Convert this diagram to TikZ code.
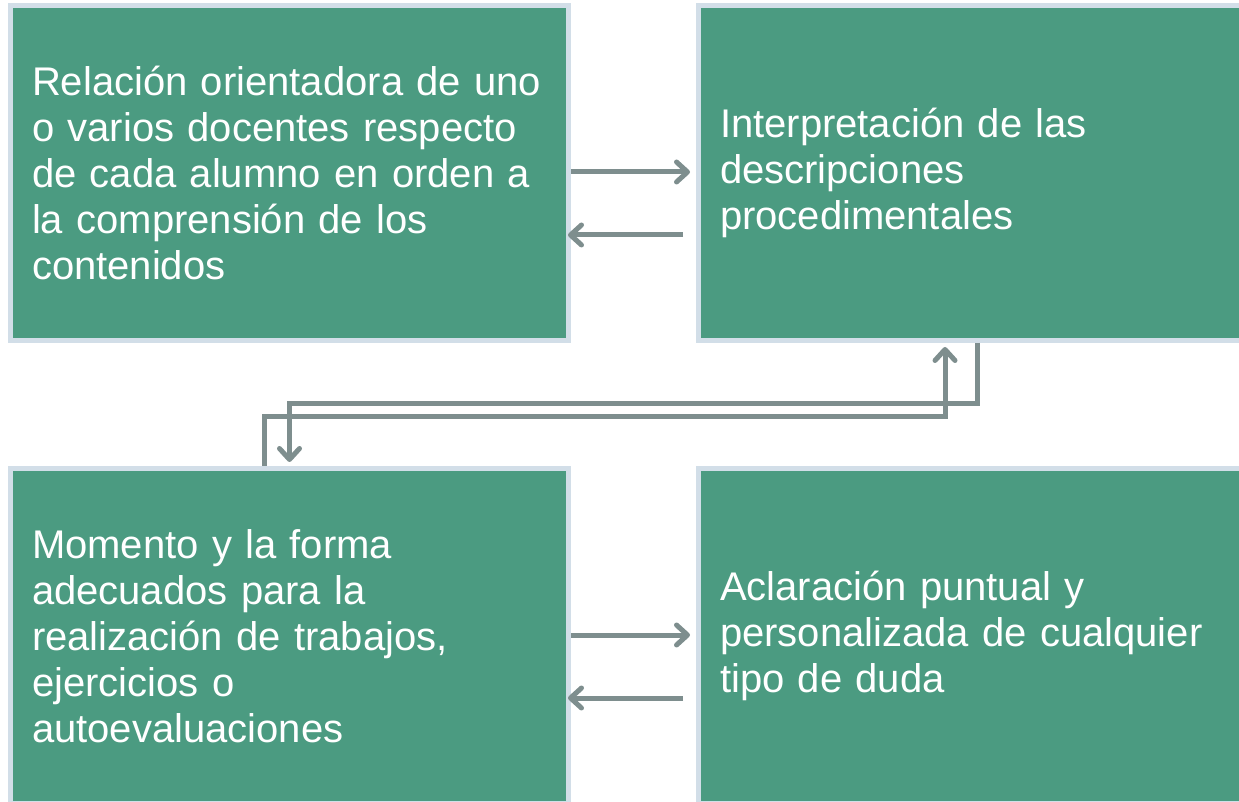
\documentclass[tikz,border=0pt]{standalone}
\usepackage{fontspec}
\setmainfont{Liberation Sans}
\definecolor{boxgreen}{RGB}{75,155,129}
\definecolor{boxrim}{RGB}{210,222,232}
\definecolor{linkgrey}{RGB}{126,142,142}
\usetikzlibrary{arrows.meta}

\begin{document}
\begin{tikzpicture}[x=1pt,y=1pt]

%
% Styles
%
\tikzstyle{block} = [rectangle,draw=boxrim,fill=boxgreen,line width=5pt,minimum width=558pt,minimum height=335pt,text width=515pt,align=left,text=white,font=\fontsize{40}{46}\selectfont]
\tikzstyle{link}  = [-{Straight Barb[length=11pt,width=20pt,round]},draw=linkgrey,line width=5pt]

\useasboundingbox (0,0) rectangle (1239,801);
\clip (0,0) rectangle (1239,801);

\node[block] (rel) at (289.5,628) {Relación orientadora de uno\\o varios docentes respecto\\de cada alumno en orden a\\la comprensión de los\\contenidos};
\node[block] (int) at (977.5,628) {Interpretación de las\\descripciones\\procedimentales};
\node[block] (mom) at (289.5,165) {Momento y la forma\\adecuados para la\\realización de trabajos,\\ejercicios o\\autoevaluaciones};
\node[block] (acl) at (977.5,165) {Aclaración puntual y\\personalizada de cualquier\\tipo de duda};

\draw[link,shorten >=6pt] ([yshift=1pt]rel.east) -- ([yshift=1pt]int.west);
\draw[link,shorten <=13pt,shorten >=-3pt] ([yshift=-62pt]int.west) -- ([yshift=-62pt]rel.east);
\draw[link,shorten >=6pt] ([yshift=1pt]mom.east) -- ([yshift=1pt]acl.west);
\draw[link,shorten <=13pt,shorten >=-3pt] ([yshift=-62pt]acl.west) -- ([yshift=-62pt]mom.east);

\draw[link,shorten >=4pt] (int.south) -- ++(0,-61) -| (mom.north);
\draw[link,shorten >=4pt] ([xshift=-25.5pt]mom.north) -- ++(0,49) -| ([xshift=-32.5pt]int.south);

\end{tikzpicture}
\end{document}
